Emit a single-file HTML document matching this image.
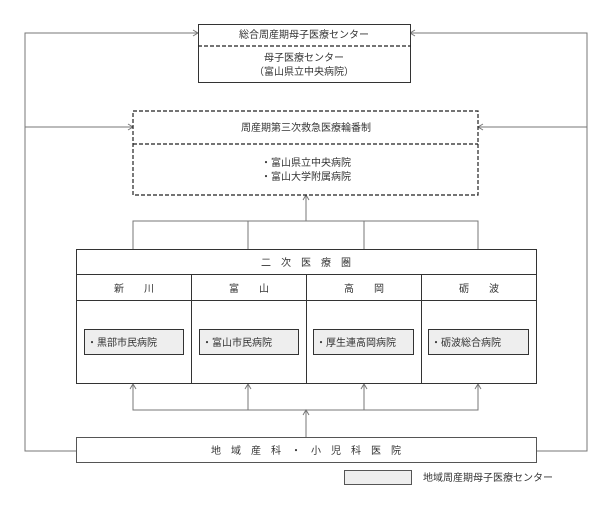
<!DOCTYPE html>
<html><head><meta charset="utf-8"><style>
html,body{margin:0;padding:0;background:#fff;width:600px;height:508px;overflow:hidden}
text{font-family:"Liberation Sans","Noto Sans CJK JP",sans-serif;font-size:10px;fill:#333}
</style></head><body>
<svg width="600" height="508" viewBox="0 0 600 508" xmlns="http://www.w3.org/2000/svg">
<g fill="none" stroke="#777" stroke-width="1">
<!-- outer loops -->
<polyline points="76,451 25,451 25,33 198,33"/>
<polyline points="537,451 587,451 587,33 410,33"/>
<line x1="25" y1="127" x2="133" y2="127"/>
<line x1="587" y1="127" x2="478" y2="127"/>
<!-- arrowheads -->
<polyline points="193,30 198,33 193,36"/>
<polyline points="415,30 410,33 415,36"/>
<polyline points="128,124 133,127 128,130"/>
<polyline points="483,124 478,127 483,130"/>
<!-- to dashed box -->
<line x1="306" y1="221" x2="306" y2="195"/>
<polyline points="303,200 306,195 309,200"/>
<polyline points="133,249 133,221 478,221 478,249"/>
<line x1="248" y1="221" x2="248" y2="249"/>
<line x1="364" y1="221" x2="364" y2="249"/>
<!-- bottom arrows -->
<polyline points="133,384 133,410 478,410 478,384"/>
<line x1="248" y1="410" x2="248" y2="384"/>
<line x1="364" y1="410" x2="364" y2="384"/>
<line x1="306" y1="437" x2="306" y2="410"/>
<polyline points="130,389 133,384 136,389"/>
<polyline points="245,389 248,384 251,389"/>
<polyline points="361,389 364,384 367,389"/>
<polyline points="475,389 478,384 481,389"/>
<polyline points="303,415 306,410 309,415"/>
</g>
<!-- top box -->
<rect x="198.5" y="24.5" width="212" height="58" fill="#fff" stroke="#333"/>
<line x1="198" y1="46" x2="411" y2="46" stroke="#222" stroke-width="1.2" stroke-dasharray="4,2"/>
<text x="304" y="38" text-anchor="middle">総合周産期母子医療センター</text>
<text x="304" y="61" text-anchor="middle">母子医療センター</text>
<text x="304" y="75" text-anchor="middle">（富山県立中央病院）</text>
<!-- dashed box -->
<rect x="133" y="111" width="345" height="84" fill="none" stroke="#222" stroke-width="1.2" stroke-dasharray="4,2"/>
<line x1="133" y1="144" x2="478" y2="144" stroke="#222" stroke-width="1.2" stroke-dasharray="4,2"/>
<text x="306" y="131" text-anchor="middle">周産期第三次救急医療輪番制</text>
<text x="306" y="166" text-anchor="middle">・富山県立中央病院</text>
<text x="306" y="180" text-anchor="middle">・富山大学附属病院</text>
<!-- big box -->
<g stroke="#333" fill="none">
<rect x="76.5" y="249.5" width="460" height="134"/>
<line x1="76" y1="274.5" x2="537" y2="274.5"/>
<line x1="76" y1="300.5" x2="537" y2="300.5"/>
<line x1="191.5" y1="274" x2="191.5" y2="384"/>
<line x1="306.5" y1="274" x2="306.5" y2="384"/>
<line x1="421.5" y1="274" x2="421.5" y2="384"/>
</g>
<text x="306" y="266" text-anchor="middle" xml:space="preserve">二　次　医　療　圏</text>
<text x="134" y="292" text-anchor="middle" xml:space="preserve">新　　川</text>
<text x="249" y="292" text-anchor="middle" xml:space="preserve">富　　山</text>
<text x="364" y="292" text-anchor="middle" xml:space="preserve">高　　岡</text>
<text x="479" y="292" text-anchor="middle" xml:space="preserve">砺　　波</text>
<g fill="#eee" stroke="#333">
<rect x="84.5" y="329.5" width="99" height="25"/>
<rect x="199.5" y="329.5" width="99" height="25"/>
<rect x="313.5" y="329.5" width="100" height="25"/>
<rect x="428.5" y="329.5" width="100" height="25"/>
</g>
<text x="87" y="346">・黒部市民病院</text>
<text x="202" y="346">・富山市民病院</text>
<text x="316" y="346">・厚生連高岡病院</text>
<text x="431" y="346">・砺波総合病院</text>
<!-- bottom box -->
<rect x="76.5" y="437.5" width="460" height="25" fill="#fff" stroke="#555"/>
<text x="306" y="454" text-anchor="middle" xml:space="preserve">地　域　産　科　・　小　児　科　医　院</text>
<!-- legend -->
<rect x="344.5" y="470.5" width="67" height="14" fill="#eee" stroke="#555"/>
<text x="423" y="481">地域周産期母子医療センター</text>
</svg>
</body></html>
